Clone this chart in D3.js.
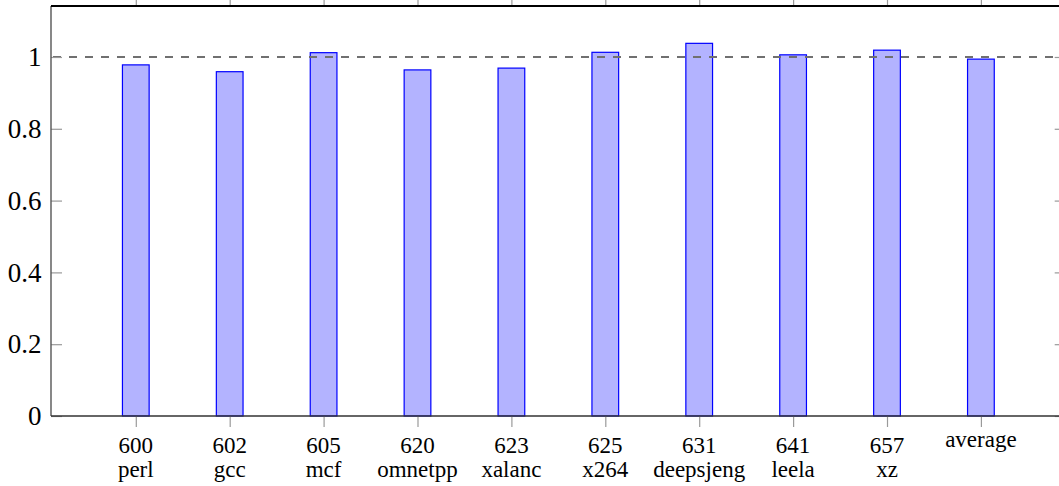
<!DOCTYPE html>
<html>
<head>
<meta charset="utf-8">
<script src="https://cdn.jsdelivr.net/npm/d3@7"></script>
<style>
html,body{margin:0;padding:0;background:#fff;overflow:hidden;}
svg{display:block;}
text{font-family:"Liberation Serif","DejaVu Serif",serif;fill:#000;}
</style>
</head>
<body>
<svg id="chart" width="1059" height="486"></svg>
<script>
const benchNumbers = ["600","602","605","620","623","625","631","641","657",""];
const benchNames   = ["perl","gcc","mcf","omnetpp","xalanc","x264","deepsjeng","leela","xz","average"];
const categories   = ["600 perl","602 gcc","605 mcf","620 omnetpp","623 xalanc","625 x264","631 deepsjeng","641 leela","657 xz","average"];
const values       = [0.978,0.959,1.012,0.964,0.969,1.013,1.038,1.006,1.019,0.994];
const yTicks       = [0,0.2,0.4,0.6,0.8,1];
const baseline     = 1;

const svg = d3.select("#chart");
const L = 51, R = 1065.7, T = 6, B = 416;

const x = d3.scalePoint().domain(categories).range([L, R]).padding(0.903);
const y = d3.scaleLinear().domain([0, 1.142]).range([B, T]);
const barW = 26.7;

// bars
svg.append("g").selectAll("rect").data(values).join("rect")
  .attr("x", (d,i) => x(categories[i]) - barW/2)
  .attr("y", d => y(d))
  .attr("width", barW)
  .attr("height", d => y(0) - y(d))
  .attr("fill", "#b3b3ff")
  .attr("stroke", "#0000ff")
  .attr("stroke-width", 1.2);

// dashed reference line
svg.append("line")
  .attr("x1", L).attr("x2", R)
  .attr("y1", y(baseline)).attr("y2", y(baseline))
  .attr("stroke", "#707070").attr("stroke-width", 2.2)
  .attr("stroke-dasharray", "8,8").attr("stroke-dashoffset", -2);

// y ticks via axes (left inward, right inward)
const yAxisL = svg.append("g").attr("transform", `translate(${L},0)`)
  .call(d3.axisRight(y).tickValues(yTicks).tickSize(11).tickFormat(""));
yAxisL.select(".domain").remove();
yAxisL.selectAll(".tick line").attr("stroke", "#9a9a9a").attr("stroke-width", 1.2);

const yAxisR = svg.append("g").attr("transform", `translate(${R},0)`)
  .call(d3.axisLeft(y).tickValues(yTicks).tickSize(11).tickFormat(""));
yAxisR.select(".domain").remove();
yAxisR.selectAll(".tick line").attr("stroke", "#9a9a9a").attr("stroke-width", 1.2);

// y labels
svg.append("g").selectAll("text").data(yTicks).join("text")
  .attr("x", 41.5)
  .attr("y", d => y(d) + 9.3)
  .attr("text-anchor", "end")
  .attr("font-size", 27)
  .text(d => d3.format("~g")(d));

// x ticks bottom & top
const xAxisB = svg.append("g").attr("transform", `translate(0,${B})`)
  .call(d3.axisBottom(x).tickSize(11).tickFormat(""));
xAxisB.select(".domain").remove();
xAxisB.selectAll(".tick line").attr("stroke", "#9a9a9a").attr("stroke-width", 1.2);

const xAxisT = svg.append("g").attr("transform", `translate(0,${T})`)
  .call(d3.axisTop(x).tickSize(11).tickFormat(""));
xAxisT.select(".domain").remove();
xAxisT.selectAll(".tick line").attr("stroke", "#9a9a9a").attr("stroke-width", 1.2);

// x labels
const xl = svg.append("g").selectAll("text").data(categories).join("text")
  .attr("text-anchor", "middle")
  .attr("font-size", 23);
xl.each(function(d,i){
  const t = d3.select(this);
  const cx = x(d);
  if (benchNumbers[i]) {
    t.append("tspan").attr("x", cx).attr("y", 453).text(benchNumbers[i]);
    t.append("tspan").attr("x", cx).attr("y", 477).text(benchNames[i]);
  } else {
    t.append("tspan").attr("x", cx).attr("y", 447).text(benchNames[i]);
  }
});

// frame
svg.append("line").attr("x1", L).attr("x2", L).attr("y1", T).attr("y2", B)
  .attr("stroke", "#555").attr("stroke-width", 1.4);
svg.append("line").attr("x1", L).attr("x2", R).attr("y1", B).attr("y2", B)
  .attr("stroke", "#333").attr("stroke-width", 1.6);
svg.append("line").attr("x1", L).attr("x2", R).attr("y1", T).attr("y2", T)
  .attr("stroke", "#000").attr("stroke-width", 2);
svg.append("line").attr("x1", R).attr("x2", R).attr("y1", T).attr("y2", B)
  .attr("stroke", "#333").attr("stroke-width", 1.4);
</script>
</body>
</html>
